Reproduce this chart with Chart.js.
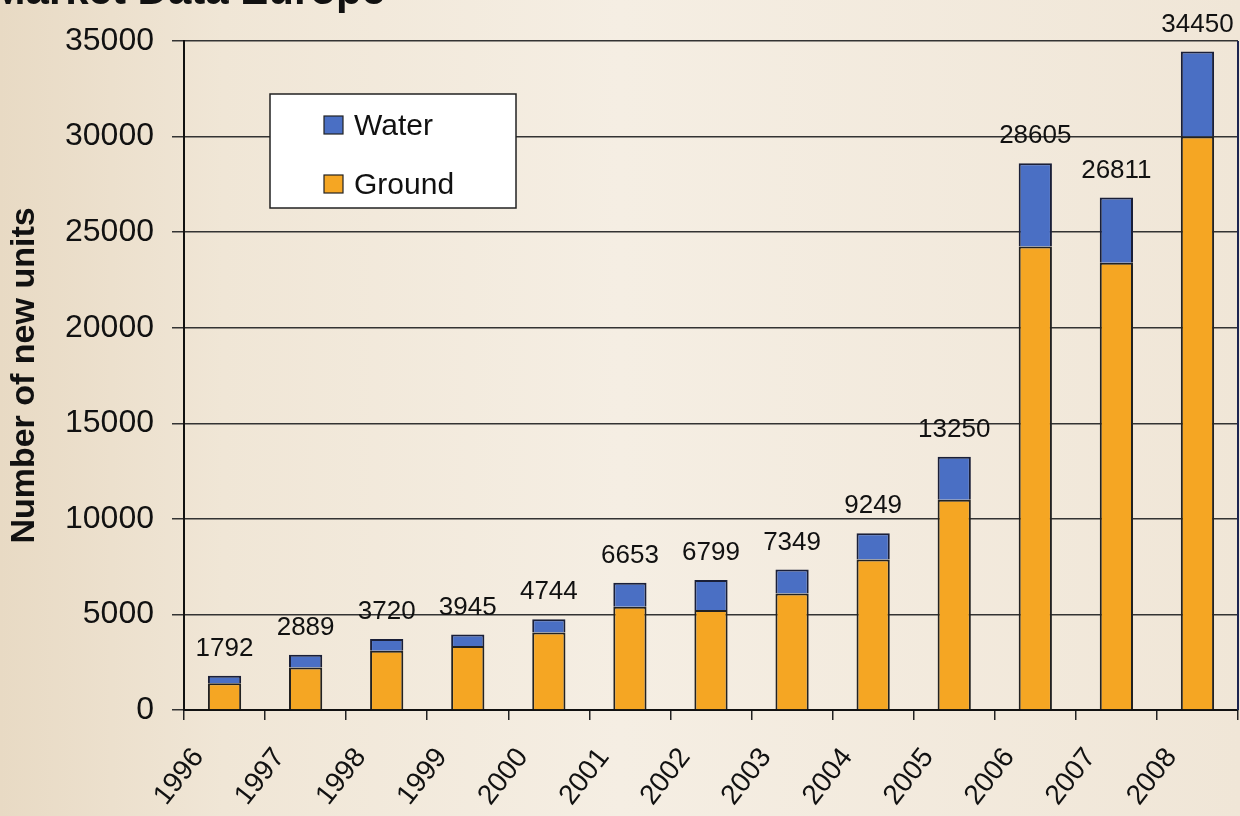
<!DOCTYPE html>
<html>
<head>
<meta charset="utf-8">
<title>Market Data Europe</title>
<script src="https://cdn.jsdelivr.net/npm/chart.js@4.4.1/dist/chart.umd.min.js"></script>
<style>
    html, body {
        margin: 0;
        padding: 0;
        background: #f1e8da;
        overflow: hidden;
    }
    #wrap {
        width: 1240px;
        height: 816px;
        position: relative;
    }
</style>
</head>
<body>
<div id="wrap">
    <canvas id="chart" width="1240" height="816"></canvas>
</div>
<script>
// ----- datos -----
const years = ['1996', '1997', '1998', '1999', '2000', '2001', '2002',
               '2003', '2004', '2005', '2006', '2007', '2008'];
const ground = [1400, 2230, 3100, 3350, 4050, 5400, 5230, 6100, 7880, 11000, 24250, 23400, 30000];
const water  = [392, 659, 620, 595, 694, 1253, 1569, 1249, 1369, 2250, 4355, 3411, 4450];
const totals = [1792, 2889, 3720, 3945, 4744, 6653, 6799, 7349, 9249, 13250, 28605, 26811, 34450];
const yTicks = [0, 5000, 10000, 15000, 20000, 25000, 30000, 35000];

const FONT = '"Liberation Sans", Arial, sans-serif';
const BLUE = '#4a6fc4';
const ORANGE = '#f5a623';

// fondo tipo pergamino
const backgroundPlugin = {
    id: 'fondo',
    beforeDraw(chart) {
        const ctx = chart.ctx;
        const w = chart.width, h = chart.height;
        ctx.save();
        const g = ctx.createLinearGradient(0, 0, w, 0);
        g.addColorStop(0, '#e8dac4');
        g.addColorStop(0.18, '#f0e6d6');
        g.addColorStop(0.5, '#f5eee3');
        g.addColorStop(1, '#f0e6d7');
        ctx.fillStyle = g;
        ctx.fillRect(0, 0, w, h);
        // titulo cortado arriba
        ctx.fillStyle = '#111';
        ctx.font = 'bold 42px ' + FONT;
        ctx.textAlign = 'right';
        ctx.textBaseline = 'alphabetic';
        ctx.fillText('Market Data Europe', 385, 4);
        ctx.restore();
    },
    afterDraw(chart) {
        const ctx = chart.ctx;
        const area = chart.chartArea;
        const y = chart.scales.y;
        ctx.save();

        // borde derecho del area
        ctx.strokeStyle = '#1c2450';
        ctx.lineWidth = 2;
        ctx.beginPath();
        ctx.moveTo(area.right, area.top);
        ctx.lineTo(area.right, area.bottom);
        ctx.stroke();

        // totales encima de cada barra
        ctx.fillStyle = '#111';
        ctx.font = '26px ' + FONT;
        ctx.textAlign = 'center';
        ctx.textBaseline = 'alphabetic';
        const meta = chart.getDatasetMeta(1);
        totals.forEach((t, i) => {
            const bar = meta.data[i];
            ctx.fillText(String(t), bar.x, y.getPixelForValue(t) - 20);
        });

        // leyenda dentro del grafico
        const lx = area.left + 86, ly = area.top + 53;
        ctx.fillStyle = '#ffffff';
        ctx.fillRect(lx, ly, 246, 114);
        ctx.strokeStyle = '#222';
        ctx.lineWidth = 1.5;
        ctx.strokeRect(lx, ly, 246, 114);

        const items = [
            { label: chart.data.datasets[1].label, color: chart.data.datasets[1].backgroundColor, y: ly + 22 },
            { label: chart.data.datasets[0].label, color: chart.data.datasets[0].backgroundColor, y: ly + 81 }
        ];
        ctx.font = '30px ' + FONT;
        ctx.textAlign = 'left';
        items.forEach(it => {
            ctx.fillStyle = it.color;
            ctx.fillRect(lx + 54, it.y, 19, 18);
            ctx.strokeStyle = '#222';
            ctx.lineWidth = 1.2;
            ctx.strokeRect(lx + 54, it.y, 19, 18);
            ctx.fillStyle = '#111';
            ctx.fillText(it.label, lx + 84, it.y + 19);
        });
        ctx.restore();
    }
};

const ctx = document.getElementById('chart').getContext('2d');
const chart = new Chart(ctx, {
    type: 'bar',
    data: {
        labels: years,
        datasets: [
            {
                label: 'Ground',
                data: ground,
                backgroundColor: ORANGE,
                borderColor: '#222',
                borderWidth: 2,
                barPercentage: 0.41,
                categoryPercentage: 1
            },
            {
                label: 'Water',
                data: water,
                backgroundColor: BLUE,
                borderColor: '#1a1f38',
                borderWidth: 2,
                barPercentage: 0.41,
                categoryPercentage: 1
            }
        ]
    },
    options: {
        responsive: false,
        animation: false,
        layout: { padding: { top: 41, right: 2, left: 0, bottom: 0 } },
        plugins: {
            legend: { display: false },
            tooltip: { enabled: false },
            title: { display: false }
        },
        scales: {
            x: {
                stacked: true,
                offset: true,
                grid: {
                    offset: true,
                    drawOnChartArea: false,
                    drawTicks: true,
                    tickLength: 10,
                    color: '#222',
                    lineWidth: 1.5
                },
                border: { display: true, color: '#111', width: 2 },
                ticks: {
                    color: '#111',
                    font: { family: FONT, size: 28 },
                    minRotation: 52,
                    maxRotation: 52,
                    labelOffset: -26,
                    padding: 22
                },
                afterFit(scale) {
                    scale.height = 106;
                    scale.paddingLeft = 0;
                    scale.paddingRight = 0;
                }
            },
            y: {
                stacked: true,
                min: 0,
                max: 35000,
                afterBuildTicks(scale) {
                    scale.ticks = yTicks.map(v => ({ value: v }));
                },
                grid: {
                    color: '#333',
                    lineWidth: 1.5,
                    tickLength: 12
                },
                border: { display: true, color: '#111', width: 2 },
                ticks: {
                    color: '#111',
                    font: { family: FONT, size: 32 },
                    padding: 18,
                    callback: v => String(v)
                },
                title: {
                    display: true,
                    text: 'Number of new units',
                    color: '#111',
                    font: { family: FONT, size: 34, weight: 'bold' },
                    padding: { top: 4, bottom: 0 }
                },
                afterFit(scale) { scale.width = 184; }
            }
        }
    },
    plugins: [backgroundPlugin]
});
</script>
</body>
</html>
